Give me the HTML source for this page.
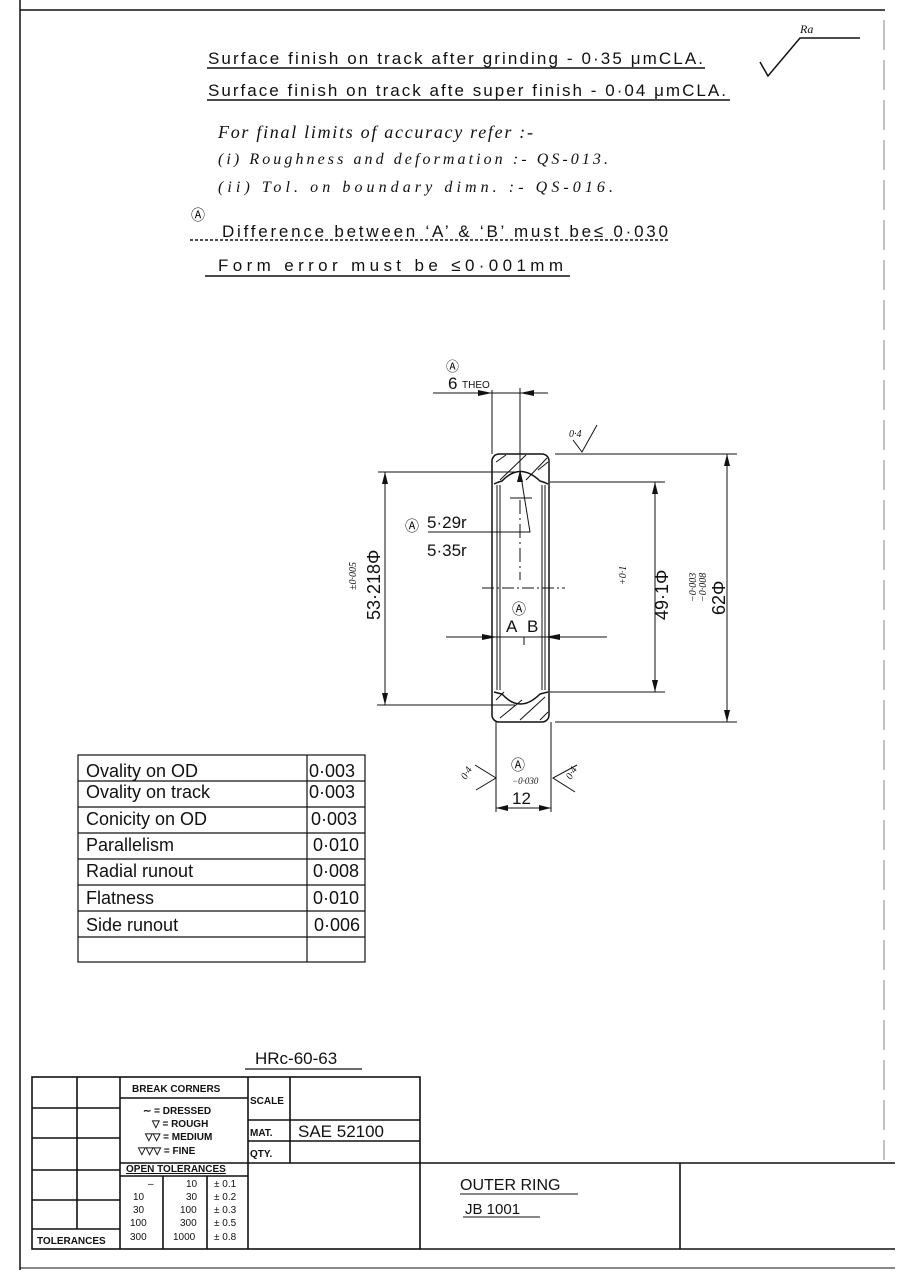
<!DOCTYPE html>
<html><head><meta charset="utf-8"><style>
body{margin:0;background:#fff}
svg{display:block}
text{font-family:"Liberation Sans",sans-serif;fill:#111}
.h{font-family:"Liberation Serif",serif;font-style:italic}
</style></head><body>
<svg width="901" height="1280" viewBox="0 0 901 1280" xmlns="http://www.w3.org/2000/svg">
<g stroke="#111" fill="none" stroke-width="1.5">
<line x1="20" y1="10" x2="885" y2="10"/>
<line x1="20" y1="0" x2="20" y2="1270"/>
<line x1="884" y1="20" x2="884" y2="1160" stroke-dasharray="30 10" stroke-width="0.8" stroke="#666"/>
<line x1="20" y1="1268" x2="895" y2="1268" stroke-width="1"/>
<polyline points="760,62 768,76 800,38 860,38"/>
<line x1="207" y1="68" x2="705" y2="68"/>
<line x1="207" y1="100" x2="730" y2="100"/>
<line x1="190" y1="240" x2="668" y2="240" stroke-dasharray="3 2"/>
<line x1="205" y1="276" x2="570" y2="276"/>
<rect x="492" y="454" width="57" height="268" rx="7"/>
<line x1="497" y1="485" x2="497" y2="690" stroke-width="1"/>
<line x1="500" y1="485" x2="500" y2="690" stroke-width="1"/>
<line x1="542" y1="485" x2="542" y2="690" stroke-width="1"/>
<line x1="545" y1="485" x2="545" y2="690" stroke-width="1"/>
<path d="M494,484 Q498,482 502,481 Q520,462 540,481 Q544,482 548,484"/>
<path d="M494,692 Q498,693 502,694 Q520,714 540,694 Q544,693 548,692"/>
<path d="M496,462 L506,455 M500,480 L526,455 M526,480 L547,458 M538,470 L548,462" stroke-width="1"/>
<path d="M496,700 L504,692 M500,718 L522,700 M520,720 L545,697 M540,720 L548,712" stroke-width="1"/>
<line x1="378" y1="472" x2="515" y2="472" stroke-width="1"/>
<line x1="377" y1="705" x2="515" y2="705" stroke-width="1"/>
<line x1="385" y1="472" x2="385" y2="705" stroke-width="1"/>
<line x1="550" y1="482" x2="665" y2="482" stroke-width="1"/>
<line x1="550" y1="692" x2="665" y2="692" stroke-width="1"/>
<line x1="655" y1="482" x2="655" y2="692" stroke-width="1"/>
<line x1="555" y1="454" x2="737" y2="454" stroke-width="1"/>
<line x1="555" y1="722" x2="737" y2="722" stroke-width="1"/>
<line x1="727" y1="454" x2="727" y2="722" stroke-width="1"/>
<line x1="433" y1="393" x2="548" y2="393" stroke-width="1"/>
<line x1="492" y1="390" x2="492" y2="454" stroke-width="1"/>
<line x1="520" y1="388" x2="520" y2="470" stroke-width="1"/>
<line x1="496" y1="722" x2="496" y2="812" stroke-width="1"/>
<line x1="551" y1="722" x2="551" y2="812" stroke-width="1"/>
<line x1="496" y1="808" x2="551" y2="808" stroke-width="1"/>
<line x1="446" y1="637" x2="607" y2="637" stroke-width="1"/>
<line x1="482" y1="588" x2="565" y2="588" stroke-width="1" stroke-dasharray="12 3 2 3"/>
<line x1="520" y1="500" x2="520" y2="580" stroke-width="1" stroke-dasharray="14 4 2 4"/>
<line x1="510" y1="498" x2="532" y2="498" stroke-width="1"/>
<polyline points="428,532 530,532 520,470" stroke-width="1"/>
<line x1="524" y1="637" x2="524" y2="645" stroke-width="1"/>
<polyline points="573,440 582,452 597,425" stroke-width="1"/>
<polyline points="475,765 496,778 476,790" stroke-width="1"/>
<polyline points="577,765 553,778 575,792" stroke-width="1"/>
</g>
<g fill="#111">
<polygon points="385,472 382,484 388,484"/><polygon points="385,705 382,693 388,693"/>
<polygon points="655,482 652,494 658,494"/><polygon points="655,692 652,680 658,680"/>
<polygon points="727,454 724,466 730,466"/><polygon points="727,722 724,710 730,710"/>
<polygon points="492,393 478,390 478,396"/><polygon points="520,393 534,390 534,396"/>
<polygon points="496,808 508,805 508,811"/><polygon points="551,808 539,805 539,811"/>
<polygon points="497,637 482,634 482,640"/><polygon points="545,637 560,634 560,640"/>
<polygon points="520,470 517,482 523,482"/>
</g>
<g font-size="17">
<text x="208" y="64" textLength="495" lengthAdjust="spacing">Surface  finish on track after grinding - 0·35 μmCLA.</text>
<text x="208" y="96" textLength="518" lengthAdjust="spacing">Surface  finish on track afte super finish - 0·04 μmCLA.</text>
<text x="218" y="138" class="h" font-size="18" textLength="315" lengthAdjust="spacing">For  final  limits  of  accuracy  refer :-</text>
<text x="218" y="164" class="h" font-size="16" textLength="390" lengthAdjust="spacing">(i)  Roughness and deformation :-  QS-013.</text>
<text x="218" y="192" class="h" font-size="16" textLength="395" lengthAdjust="spacing">(ii)  Tol.  on  boundary  dimn.  :-  QS-016.</text>
<text x="191" y="220" font-size="14">Ⓐ</text>
<text x="222" y="237" textLength="446" lengthAdjust="spacing">Difference    between ‘A’ &amp; ‘B’  must  be≤ 0·030</text>
<text x="218" y="271" textLength="345" lengthAdjust="spacing">Form   error  must   be ≤0·001mm</text>
</g>
<text x="800" y="33" class="h" font-size="12">Ra</text>
<text x="446" y="371" font-size="13">Ⓐ</text>
<text x="448" y="389" font-size="17">6</text><text x="462" y="388" font-size="10">THEO</text>
<text x="569" y="437" class="h" font-size="10">0·4</text>
<text x="405" y="531" font-size="14">Ⓐ</text>
<text x="427" y="528" font-size="17">5·29r</text>
<text x="427" y="556" font-size="17">5·35r</text>
<text x="512" y="614" font-size="14">Ⓐ</text>
<text x="506" y="632" font-size="17">A</text><text x="527" y="632" font-size="17">B</text>
<text transform="translate(380,620) rotate(-90)" font-size="18">53·218Φ</text>
<text transform="translate(356,590) rotate(-90)" class="h" font-size="10">±0·005</text>
<text transform="translate(668,620) rotate(-90)" font-size="18">49·1Φ</text>
<text transform="translate(626,585) rotate(-90)" class="h" font-size="10">+0·1</text>
<text transform="translate(725,615) rotate(-90)" font-size="18">62Φ</text>
<text transform="translate(696,602) rotate(-90)" class="h" font-size="10">−0·003</text>
<text transform="translate(706,602) rotate(-90)" class="h" font-size="10">−0·008</text>
<text x="511" y="770" font-size="14">Ⓐ</text>
<text x="512" y="784" class="h" font-size="9">−0·030</text>
<text x="512" y="804" font-size="17">12</text>
<text transform="translate(466,780) rotate(-60)" class="h" font-size="10">0·4</text>
<text transform="translate(571,780) rotate(-60)" class="h" font-size="10">0·4</text>
<g stroke="#111" fill="none" stroke-width="1.2">
<rect x="78" y="755" width="287" height="207"/>
<line x1="307" y1="755" x2="307" y2="962"/>
<line x1="78" y1="781" x2="365" y2="781"/><line x1="78" y1="807" x2="365" y2="807"/>
<line x1="78" y1="833" x2="365" y2="833"/><line x1="78" y1="859" x2="365" y2="859"/>
<line x1="78" y1="885" x2="365" y2="885"/><line x1="78" y1="911" x2="365" y2="911"/>
<line x1="78" y1="937" x2="365" y2="937"/>
</g>
<g font-size="18">
<text x="86" y="777">Ovality on OD</text><text x="309" y="777">0·003</text>
<text x="86" y="798">Ovality on track</text><text x="309" y="798">0·003</text>
<text x="86" y="825">Conicity on OD</text><text x="311" y="825">0·003</text>
<text x="86" y="851">Parallelism</text><text x="313" y="851">0·010</text>
<text x="86" y="877">Radial runout</text><text x="313" y="877">0·008</text>
<text x="86" y="904">Flatness</text><text x="313" y="904">0·010</text>
<text x="86" y="931">Side runout</text><text x="314" y="931">0·006</text>
</g>
<text x="255" y="1064" font-size="17">HRc-60-63</text>
<line x1="245" y1="1069" x2="362" y2="1069" stroke="#111" stroke-width="1.2"/>
<g stroke="#111" fill="none" stroke-width="1.6">
<rect x="32" y="1077" width="388" height="172"/>
<line x1="420" y1="1163" x2="895" y2="1163"/>
<line x1="420" y1="1249" x2="895" y2="1249"/>
<line x1="680" y1="1163" x2="680" y2="1249"/>
<line x1="77" y1="1077" x2="77" y2="1229"/>
<line x1="120" y1="1077" x2="120" y2="1249"/>
<line x1="248" y1="1077" x2="248" y2="1249"/>
<line x1="290" y1="1077" x2="290" y2="1163"/>
<line x1="32" y1="1108" x2="120" y2="1108"/><line x1="32" y1="1138" x2="120" y2="1138"/>
<line x1="32" y1="1170" x2="120" y2="1170"/><line x1="32" y1="1200" x2="120" y2="1200"/>
<line x1="32" y1="1229" x2="120" y2="1229"/>
<line x1="120" y1="1098" x2="248" y2="1098"/>
<line x1="120" y1="1163" x2="420" y2="1163"/>
<line x1="120" y1="1176" x2="248" y2="1176"/>
<line x1="163" y1="1176" x2="163" y2="1249"/><line x1="207" y1="1176" x2="207" y2="1249"/>
<line x1="248" y1="1120" x2="420" y2="1120"/><line x1="248" y1="1141" x2="420" y2="1141"/>
<line x1="460" y1="1194" x2="578" y2="1194" stroke-width="1"/>
<line x1="463" y1="1217" x2="540" y2="1217" stroke-width="1"/>
</g>
<g font-size="10" font-weight="bold">
<text x="132" y="1092">BREAK CORNERS</text>
<text x="143" y="1114">∼ = DRESSED</text>
<text x="152" y="1127">▽ = ROUGH</text>
<text x="145" y="1140">▽▽ = MEDIUM</text>
<text x="138" y="1154">▽▽▽ = FINE</text>
<text x="126" y="1172" text-decoration="underline">OPEN TOLERANCES</text>
<text x="250" y="1104">SCALE</text>
<text x="250" y="1136">MAT.</text>
<text x="250" y="1157">QTY.</text>
<text x="37" y="1244">TOLERANCES</text>
</g>
<g font-size="10">
<text x="148" y="1187">–</text><text x="133" y="1200">10</text><text x="133" y="1213">30</text><text x="130" y="1226">100</text><text x="130" y="1240">300</text>
<text x="186" y="1187">10</text><text x="186" y="1200">30</text><text x="180" y="1213">100</text><text x="180" y="1226">300</text><text x="173" y="1240">1000</text>
<text x="214" y="1187">± 0.1</text><text x="214" y="1200">± 0.2</text><text x="214" y="1213">± 0.3</text><text x="214" y="1226">± 0.5</text><text x="214" y="1240">± 0.8</text>
</g>
<text x="298" y="1137" font-size="17">SAE 52100</text>
<text x="460" y="1190" font-size="16">OUTER RING</text>
<text x="465" y="1214" font-size="15">JB 1001</text>
</svg>
</body></html>
